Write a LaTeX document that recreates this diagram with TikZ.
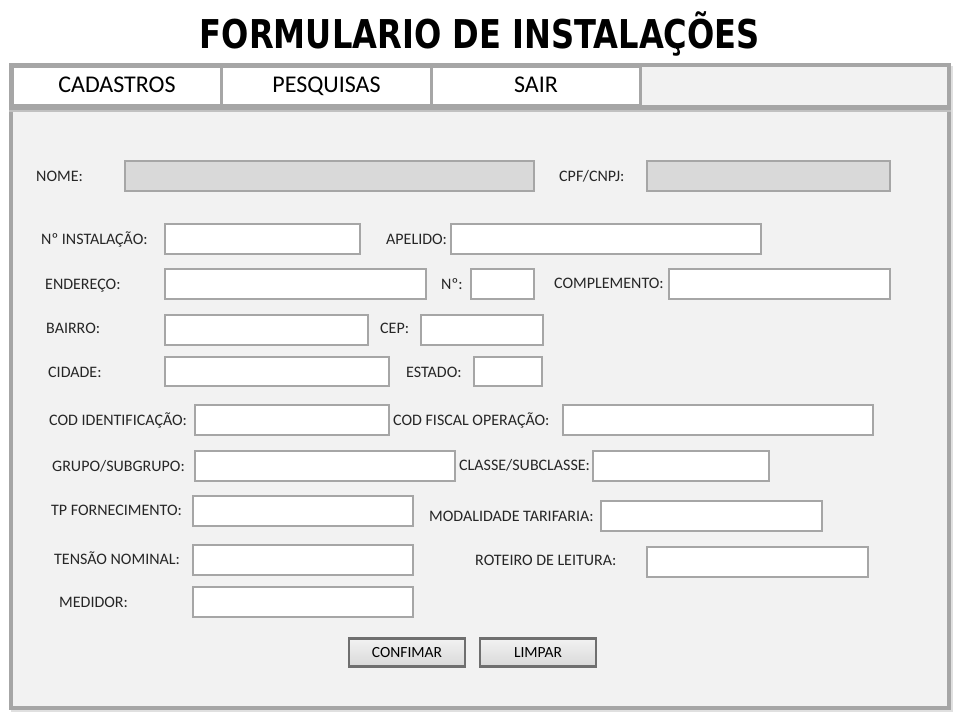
\documentclass[tikz,border=0pt]{standalone}
\usepackage{fontspec}
\setmainfont{Carlito}
\newfontfamily\titlefont{DejaVu Sans}
\definecolor{bord}{HTML}{A6A6A6}
\definecolor{bgc}{HTML}{F2F2F2}
\definecolor{gfield}{HTML}{D9D9D9}
\definecolor{btnbord}{HTML}{6F6F6F}
\newcommand\fld[6][white]{\node[field,fill=#1,minimum width={#4-#2},minimum height={#5-#3}] (#6) at ({(#2+#4)/2},{(#3+#5)/2}) {};}
\newcommand\lbl[4]{\node[lbl] (#1) at (#2,#3) {#4};}
\begin{document}
\begin{tikzpicture}[x=1pt,y=-1pt,
  field/.style={draw=bord,line width=2.5pt,rectangle,inner sep=0pt,outer sep=0pt},
  lbl/.style={anchor=base west,inner sep=0pt,font=\fontsize{16}{17}\selectfont,text=black!85},
  tab/.style={draw=bord,line width=2.5pt,fill=white,rectangle,inner sep=0pt,text height=16pt,text depth=4pt,font=\fontsize{24}{26}\selectfont},
  btn/.style={draw=btnbord,line width=2.5pt,top color=bgc,bottom color=gfield,rectangle,inner sep=0pt,text height=12pt,text depth=2pt,font=\fontsize{15.5}{17}\selectfont}]
\useasboundingbox (0,0) rectangle (960,720);
\fill[white] (0,0) rectangle (960,720);
% title
\node[font=\titlefont\bfseries\fontsize{30}{36}\selectfont,inner sep=0pt] (title) at (480,34) {\resizebox{560pt}{!}{\scalebox{0.85}[1.05]{FORMULARIO DE INSTALAÇÕES}}};
% outer frame
\draw[bord!80!black,line width=4pt,opacity=0.25] (13,68) rectangle (951,710);
\node[draw=bord,line width=4pt,fill=bgc,rectangle,inner sep=0pt,minimum width=938pt,minimum height=643pt] (frame) at (480,386.5) {};
% menu tabs
\node[tab,minimum width=208pt,minimum height=38pt] (cad) at (117,86) {CADASTROS};
\node[tab,minimum width=210pt,minimum height=38pt] (pes) at (326.5,86) {PESQUISAS};
\node[tab,minimum width=209pt,minimum height=38pt] (sair) at (536,86) {SAIR};
\draw[bord,line width=5pt] (frame.west |- 0,107) -- (frame.east |- 0,107);
\draw[bord!70,line width=2pt] (frame.west |- 0,111) -- (frame.east |- 0,111);
% fields
\fld[gfield]{125}{161}{534}{191}{fnome}
\fld[gfield]{647}{161}{890}{191}{fcpf}
\fld{165}{224}{360}{254}{finst}
\fld{451}{224}{761}{254}{fapel}
\fld{165}{269}{426}{299}{fend}
\fld{471}{269}{534}{299}{fnum}
\fld{669}{269}{890}{299}{fcompl}
\fld{165}{315}{368}{345}{fbairro}
\fld{421}{315}{543}{345}{fcep}
\fld{165}{357}{389}{386}{fcid}
\fld{474}{357}{542}{386}{fest}
\fld{195}{405}{389}{435}{fcodid}
\fld{563}{405}{873}{435}{fcodfis}
\fld{195}{451}{455}{481}{fgrupo}
\fld{593}{451}{769}{481}{fclasse}
\fld{193}{496}{413}{526}{ftp}
\fld{601}{501}{822}{531}{fmod}
\fld{193}{545}{413}{575}{ften}
\fld{647}{547}{868}{577}{frot}
\fld{193}{587}{413}{617}{fmed}
% labels
\lbl{lnome}{36}{181}{NOME:}
\lbl{lcpf}{559}{181}{CPF/CNPJ:}
\lbl{linst}{41}{244}{Nº INSTALAÇÃO:}
\lbl{lapel}{386}{244}{APELIDO:}
\lbl{lend}{45}{289}{ENDEREÇO:}
\lbl{lnum}{441}{289}{Nº:}
\lbl{lcompl}{554}{288}{COMPLEMENTO:}
\lbl{lbairro}{46}{333}{BAIRRO:}
\lbl{lcep}{380}{333}{CEP:}
\lbl{lcid}{48}{377}{CIDADE:}
\lbl{lest}{406}{377}{ESTADO:}
\lbl{lcodid}{49}{425}{COD IDENTIFICAÇÃO:}
\lbl{lcodfis}{393}{425}{COD FISCAL OPERAÇÃO:}
\lbl{lgrupo}{52}{471}{GRUPO/SUBGRUPO:}
\lbl{lclasse}{459}{470}{CLASSE/SUBCLASSE:}
\lbl{ltp}{51}{515}{TP FORNECIMENTO:}
\lbl{lmod}{429}{521}{MODALIDADE TARIFARIA:}
\lbl{lten}{54}{564}{TENSÃO NOMINAL:}
\lbl{lrot}{475}{565}{ROTEIRO DE LEITURA:}
\lbl{lmed}{59}{607}{MEDIDOR:}
% buttons
\node[btn,minimum width=116pt,minimum height=28pt] (bconf) at (407,652.5) {CONFIMAR};
\node[btn,minimum width=116pt,minimum height=28pt] (blimp) at (538,652.5) {LIMPAR};
\end{tikzpicture}
\end{document}
